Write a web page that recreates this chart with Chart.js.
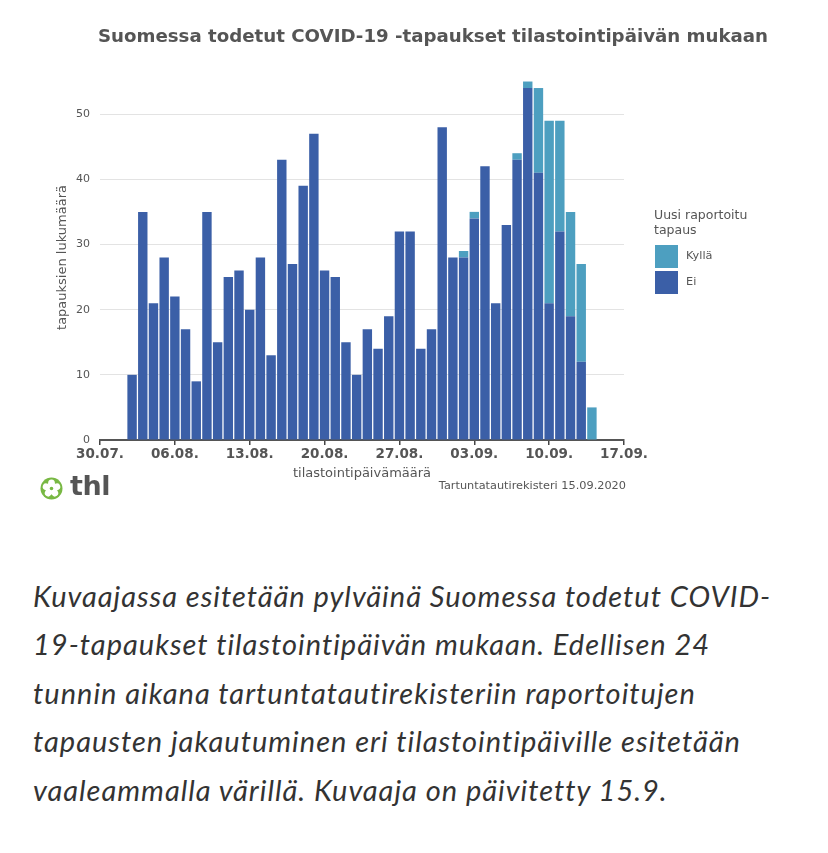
<!DOCTYPE html>
<html>
<head>
<meta charset="utf-8">
<script src="https://cdn.jsdelivr.net/npm/chart.js@4.4.1/dist/chart.umd.min.js"></script>
<style>
  html, body { margin:0; padding:0; background:#fff; }
  body { width:828px; height:853px; position:relative; overflow:hidden; font-family:"DejaVu Sans", sans-serif; }
  #wrap { position:absolute; left:0; top:0; width:828px; height:500px; }
  #title { position:absolute; left:0; width:866px; top:25px; text-align:center; font:bold 18.2px "DejaVu Sans"; color:#555; white-space:nowrap; }
  #legend { position:absolute; left:654px; top:208px; color:#555; font-family:"DejaVu Sans"; }
  #legend .lt { font-size:12.5px; line-height:14.5px; }
  #legend .item { position:relative; height:26px; margin-top:0; }
  #legend .sw { position:absolute; left:1px; top:0; width:23px; height:23px; }
  #legend .lb { position:absolute; left:32px; top:4px; font-size:11.3px; }
  #source { position:absolute; right:202px; top:479px; font:11.3px "DejaVu Sans"; color:#555; white-space:nowrap; }
  #logo { position:absolute; left:40px; top:476px; height:26px; }
  #logo svg { position:absolute; left:0; top:1px; }
  #logo span { position:absolute; left:30px; top:-6px; font:bold 27px "DejaVu Sans"; color:#555; letter-spacing:-0.5px; }
  #caption { position:absolute; left:33px; top:572px; font-family:Lato, sans-serif; font-style:italic; font-size:29px; letter-spacing:1px; line-height:48.4px; color:#333; white-space:nowrap; }
</style>
</head>
<body>
<div id="wrap"><canvas id="c"></canvas></div>
<div id="title">Suomessa todetut COVID-19 -tapaukset tilastointipäivän mukaan</div>
<div id="legend"></div>
<div id="source">Tartuntatautirekisteri 15.09.2020</div>
<div id="logo">
  <svg width="23" height="23" viewBox="0 0 22 22">
    <circle cx="11" cy="11" r="10.5" fill="#78b843"/>
    <g fill="#fff" transform="translate(11 11)">
      <ellipse cx="0" cy="-4.8" rx="3.3" ry="3.9"/>
      <ellipse cx="0" cy="-4.8" rx="3.3" ry="3.9" transform="rotate(72)"/>
      <ellipse cx="0" cy="-4.8" rx="3.3" ry="3.9" transform="rotate(144)"/>
      <ellipse cx="0" cy="-4.8" rx="3.3" ry="3.9" transform="rotate(216)"/>
      <ellipse cx="0" cy="-4.8" rx="3.3" ry="3.9" transform="rotate(288)"/>
      <circle cx="0" cy="0" r="1.7" fill="#78b843"/>
    </g>
  </svg>
  <span>thl</span>
</div>
<div id="caption">Kuvaajassa esitetään pylväinä Suomessa todetut COVID-<br>19-tapaukset tilastointipäivän mukaan. Edellisen 24<br>tunnin aikana tartuntatautirekisteriin raportoitujen<br>tapausten jakautuminen eri tilastointipäiville esitetään<br>vaaleammalla värillä. Kuvaaja on päivitetty 15.9.</div>
<script>
const categories = [
  '30.07.','31.07.',
  '01.08.','02.08.','03.08.','04.08.','05.08.','06.08.','07.08.','08.08.','09.08.','10.08.',
  '11.08.','12.08.','13.08.','14.08.','15.08.','16.08.','17.08.','18.08.','19.08.','20.08.',
  '21.08.','22.08.','23.08.','24.08.','25.08.','26.08.','27.08.','28.08.','29.08.','30.08.','31.08.',
  '01.09.','02.09.','03.09.','04.09.','05.09.','06.09.','07.09.','08.09.','09.09.','10.09.',
  '11.09.','12.09.','13.09.','14.09.','15.09.','16.09.','17.09.'
];
// "Ei" = not newly reported, "Kyllä" = newly reported in last 24h
const eiValues = [
  null, null, null,
  10, 35, 21, 28, 22, 17, 9, 35, 15, 25, 26, 20, 28, 13, 43, 27, 39, 47, 26, 25, 15, 10,
  17, 14, 19, 32, 32, 14, 17, 48, 28, 28, 34, 42, 21, 33, 43, 54, 41, 21, 32, 19, 12, 0,
  null, null, null
];
const kyllaValues = [
  null, null, null,
  0, 0, 0, 0, 0, 0, 0, 0, 0, 0, 0, 0, 0, 0, 0, 0, 0, 0, 0, 0, 0, 0,
  0, 0, 0, 0, 0, 0, 0, 0, 0, 1, 1, 0, 0, 0, 1, 1, 13, 28, 17, 16, 15, 5,
  null, null, null
];
const tickLabels = ['30.07.','06.08.','13.08.','20.08.','27.08.','03.09.','10.09.','17.09.'];
const yTickValues = [0, 10, 20, 30, 40, 50];
const seriesNames = ['Kyllä', 'Ei'];
const colors = { 'Kyllä': '#4d9fc0', 'Ei': '#3b5fa7' };
const legendTitle = ['Uusi raportoitu', 'tapaus'];

// legend (HTML)
const lg = document.getElementById('legend');
lg.innerHTML = '<div class="lt">' + legendTitle.join('<br>') + '</div><div style="height:8px"></div>' +
  seriesNames.map(n => '<div class="item"><div class="sw" style="background:' + colors[n] + '"></div><div class="lb">' + n + '</div></div>').join('');

new Chart(document.getElementById('c'), {
  type: 'bar',
  data: {
    labels: categories,
    datasets: [
      { label: 'Ei', data: eiValues, backgroundColor: colors['Ei'], borderWidth: 0, categoryPercentage: 0.88, barPercentage: 1 },
      { label: 'Kyllä', data: kyllaValues, backgroundColor: colors['Kyllä'], borderWidth: 0, categoryPercentage: 0.88, barPercentage: 1 }
    ]
  },
  options: {
    responsive: true,
    maintainAspectRatio: false,
    animation: false,
    layout: { padding: { left: 52, right: 204, top: 75, bottom: 15 } },
    plugins: { legend: { display: false }, tooltip: { enabled: false }, title: { display: false } },
    scales: {
      x: {
        type: 'category',
        stacked: true,
        offset: false,
        afterBuildTicks: (s) => { s.ticks = s.ticks.filter(t => tickLabels.includes(categories[t.value])); },
        afterFit: (s) => { s.height = 45; },
        ticks: {
          autoSkip: false, maxRotation: 0, minRotation: 0, padding: 1,
          color: '#555', font: { family: 'DejaVu Sans', size: 13.5, weight: 'bold' },
          callback: (v) => categories[v]
        },
        grid: { display: true, offset: false, drawOnChartArea: false, drawTicks: true, tickLength: 5, color: '#444', lineWidth: 1.5 },
        border: { display: true, color: '#555', width: 2 },
        title: { display: true, text: 'tilastointipäivämäärä', color: '#555', font: { family: 'DejaVu Sans', size: 13 }, padding: { top: 0, bottom: 4 } }
      },
      y: {
        stacked: true,
        min: 0, max: 56,
        afterBuildTicks: (s) => { s.ticks = yTickValues.map(v => ({ value: v })); },
        afterFit: (s) => { s.width = 48; },
        ticks: { color: '#555', font: { family: 'DejaVu Sans', size: 11 }, padding: 10 },
        grid: { color: '#e3e3e3', lineWidth: 1, drawTicks: false },
        border: { display: false },
        title: { display: true, text: 'tapauksien lukumäärä', color: '#555', font: { family: 'DejaVu Sans', size: 13 }, padding: { top: 3, bottom: 0 } }
      }
    }
  }
});
</script>
</body>
</html>
